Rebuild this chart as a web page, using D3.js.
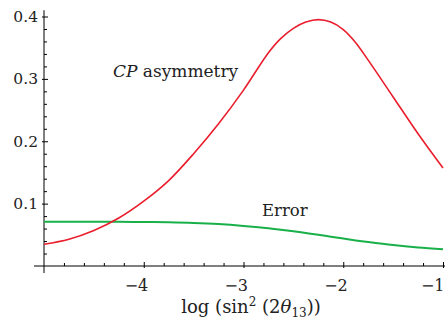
<!DOCTYPE html>
<html>
<head>
<meta charset="utf-8">
<script src="https://cdn.jsdelivr.net/npm/d3@7"></script>
<style>
  body { margin: 0; background: #fff; }
  svg { display: block; }
</style>
</head>
<body>
<div id="chart"></div>
<script>
// log(sin^2(2 theta13)) values and curves
const logS = [-5, -4.75, -4.5, -4.25, -4, -3.75, -3.5, -3.25, -3, -2.75, -2.625, -2.5, -2.375, -2.25, -2.125, -2, -1.875, -1.75, -1.5, -1.25, -1];
const cpAsym = [0.035, 0.043, 0.057, 0.077, 0.104, 0.137, 0.180, 0.228, 0.282, 0.342, 0.365, 0.381, 0.391, 0.395, 0.391, 0.379, 0.358, 0.330, 0.271, 0.212, 0.157];
const errVals = [0.071, 0.071, 0.071, 0.0708, 0.0705, 0.0700, 0.0690, 0.0672, 0.0643, 0.0605, 0.0582, 0.0556, 0.0528, 0.0500, 0.0470, 0.0440, 0.0410, 0.0383, 0.0335, 0.0298, 0.0270];
const xMajor = [-4, -3, -2, -1];
const yMajor = [0.1, 0.2, 0.3, 0.4];

const width = 445, height = 322;
const serif = "DejaVu Serif, Liberation Serif, serif";

const svg = d3.select("#chart").append("svg")
    .attr("width", width)
    .attr("height", height)
    .attr("font-family", serif);

const x = d3.scaleLinear().domain([-5, -1]).range([44, 443]);
const y = d3.scaleLinear().domain([0, 0.4]).range([266, 16.5]);

// minor ticks
const xMinor = d3.range(-5, -0.99, 0.2).filter(v => Math.abs(v - Math.round(v)) > 1e-6);
const yMinor = d3.range(0.02, 0.401, 0.02).filter(v => Math.abs(v * 10 - Math.round(v * 10)) > 1e-6);

const yMinorAxis = svg.append("g")
    .attr("transform", "translate(" + x(-5) + ",0)")
    .call(d3.axisLeft(y).tickValues(yMinor).tickSizeInner(-3).tickSizeOuter(0).tickFormat(""));
yMinorAxis.select(".domain").remove();

const xMinorAxis = svg.append("g")
    .attr("transform", "translate(0," + y(0) + ")")
    .call(d3.axisBottom(x).tickValues(xMinor).tickSizeInner(-3).tickSizeOuter(0).tickFormat(""));
xMinorAxis.select(".domain").remove();

// major ticks + labels
const yAxis = svg.append("g")
    .attr("transform", "translate(" + x(-5) + ",0)")
    .call(d3.axisLeft(y).tickValues(yMajor).tickSizeInner(-4).tickSizeOuter(0).tickPadding(6).tickFormat(d3.format(".1f")));
yAxis.attr("font-family", serif).attr("font-size", 15.5);
yAxis.select(".domain").remove();
yAxis.selectAll(".tick line").attr("x1", -2);
yAxis.selectAll(".tick text").attr("fill", "#222");

const xAxis = svg.append("g")
    .attr("transform", "translate(0," + y(0) + ")")
    .call(d3.axisBottom(x).tickValues(xMajor).tickSizeInner(-4).tickSizeOuter(0).tickFormat(d3.format("d")));
xAxis.attr("font-family", serif).attr("font-size", 16);
xAxis.select(".domain").remove();
xAxis.selectAll(".tick line").attr("y1", 2);
xAxis.selectAll(".tick text")
    .attr("text-anchor", "end")
    .attr("x", d => d === -1 ? 1 : 4)
    .attr("y", 25)
    .attr("dy", null)
    .attr("fill", "#222");

// axis lines
svg.append("line")
    .attr("x1", x(-5)).attr("x2", x(-5))
    .attr("y1", y(0.41)).attr("y2", y(0) + 7)
    .attr("stroke", "#000").attr("stroke-width", 1);
svg.append("line")
    .attr("x1", x(-5.1)).attr("x2", width)
    .attr("y1", y(0)).attr("y2", y(0))
    .attr("stroke", "#000").attr("stroke-width", 1);

// curves
const line = d3.line()
    .x(d => x(d[0]))
    .y(d => y(d[1]))
    .curve(d3.curveCatmullRom.alpha(0.5));

svg.append("path")
    .datum(d3.zip(logS, errVals))
    .attr("d", line)
    .attr("fill", "none")
    .attr("stroke", "#19b04a")
    .attr("stroke-width", 2);

svg.append("path")
    .datum(d3.zip(logS, cpAsym))
    .attr("d", line)
    .attr("fill", "none")
    .attr("stroke", "#ea1d2c")
    .attr("stroke-width", 1.6);

// curve labels
const cpLabel = svg.append("text")
    .attr("x", 113).attr("y", 77)
    .attr("font-size", 17)
    .attr("fill", "#222");
cpLabel.append("tspan").attr("font-style", "italic").text("CP");
cpLabel.append("tspan").text(" asymmetry");

svg.append("text")
    .attr("x", 262).attr("y", 216)
    .attr("font-size", 16.5)
    .attr("fill", "#222")
    .text("Error");

// x-axis title
const xt = svg.append("text")
    .attr("x", 251).attr("y", 313)
    .attr("text-anchor", "middle")
    .attr("font-size", 18)
    .attr("fill", "#222");
xt.append("tspan").text("log (sin");
xt.append("tspan").attr("dy", -7).attr("font-size", 12).text("2");
xt.append("tspan").attr("dy", 7).text(" (2");
xt.append("tspan").attr("font-style", "italic").text("θ");
xt.append("tspan").attr("dy", 4).attr("font-size", 12).text("13");
xt.append("tspan").attr("dy", -4).text("))");
</script>
</body>
</html>
